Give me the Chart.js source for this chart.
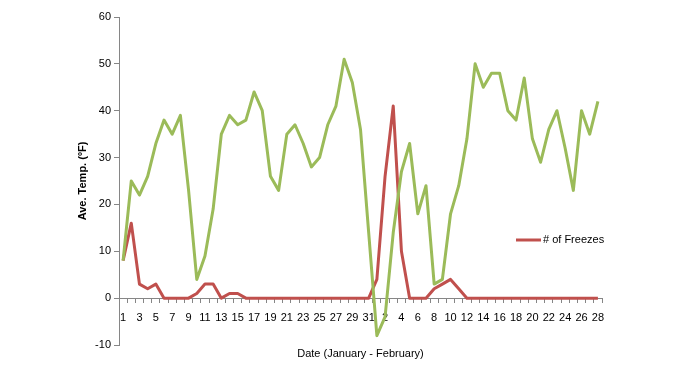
<!DOCTYPE html>
<html>
<head>
<meta charset="utf-8">
<script src="https://cdn.jsdelivr.net/npm/chart.js@4"></script>
<style>
  body { margin: 0; background: #fff; }
  #wrap { width: 674px; height: 380px; }
</style>
</head>
<body>
<div id="wrap"><canvas id="chart"></canvas></div>
<script>
// January 1-31 then February 1-28
const janDays = Array.from({length: 31}, (_, i) => String(i + 1));
const febDays = Array.from({length: 28}, (_, i) => String(i + 1));
const dayLabels = janDays.concat(febDays);

const aveTemp = [
    8, 25, 22, 26, 33, 38, 35, 39, 23, 4, 9, 19, 35, 39, 37, 38, 44, 40, 26, 23,
    35, 37, 33, 28, 30, 37, 41, 51, 46, 36, 14,
    -8, -4, 14, 27, 33, 18, 24, 3, 4, 18, 24, 34, 50, 45, 48, 48, 40, 38, 47, 34,
    29, 36, 40, 32, 23, 40, 35, 42
];

const freezes = [
    8, 16, 3, 2, 3, 0, 0, 0, 0, 1, 3, 3, 0, 1, 1, 0, 0, 0, 0, 0,
    0, 0, 0, 0, 0, 0, 0, 0, 0, 0, 0,
    4, 26, 41, 10, 0, 0, 0, 2, 3, 4, 2, 0, 0, 0, 0, 0, 0, 0, 0, 0,
    0, 0, 0, 0, 0, 0, 0, 0
];

const yTicks = [-10, 0, 10, 20, 30, 40, 50, 60];

const FONT = 'Liberation Sans';

// legend for the freezes series only, sitting inside the plot
const freezeLegend = {
    id: 'freezeLegend',
    afterDraw(chart) {
        const ctx = chart.ctx;
        const ds = chart.data.datasets[1];
        const x = 516, y = 240;
        ctx.save();
        ctx.strokeStyle = ds.borderColor;
        ctx.lineWidth = 3;
        ctx.beginPath();
        ctx.moveTo(x, y);
        ctx.lineTo(x + 25, y);
        ctx.stroke();
        ctx.fillStyle = '#000';
        ctx.font = '11px "' + FONT + '"';
        ctx.textBaseline = 'middle';
        ctx.fillText(ds.label, x + 27, y);
        ctx.restore();
    }
};

new Chart(document.getElementById('chart'), {
    type: 'line',
    data: {
        labels: dayLabels,
        datasets: [
            {
                label: 'Ave. Temp',
                data: aveTemp,
                borderColor: '#9bbb59',
                borderWidth: 3,
                pointRadius: 0,
                tension: 0,
                borderJoinStyle: 'round'
            },
            {
                label: '# of Freezes',
                data: freezes,
                borderColor: '#c0504d',
                borderWidth: 3,
                pointRadius: 0,
                tension: 0,
                borderJoinStyle: 'round'
            }
        ]
    },
    options: {
        responsive: true,
        maintainAspectRatio: false,
        animation: false,
        layout: { padding: { left: 70, right: 72, top: 17, bottom: 35 } },
        plugins: {
            legend: { display: false },
            tooltip: { enabled: false }
        },
        scales: {
            x: {
                position: { y: 0 },
                offset: true,
                grid: {
                    offset: true,
                    drawOnChartArea: false,
                    color: '#868686',
                    tickLength: 4
                },
                border: { color: '#868686', width: 1 },
                ticks: {
                    autoSkip: false,
                    maxRotation: 0,
                    padding: 9,
                    color: '#000',
                    font: { family: FONT, size: 11 },
                    callback: (v, i) => (i % 2 === 0 ? dayLabels[i] : '')
                },
                title: {
                    display: true,
                    text: 'Date (January - February)',
                    color: '#000',
                    font: { family: FONT, size: 11 },
                    padding: { top: 14, bottom: 0 }
                }
            },
            y: {
                min: -10,
                max: 60,
                afterBuildTicks: (scale) => { scale.ticks = yTicks.map(v => ({ value: v })); },
                afterFit: (scale) => { scale.width = 49; },
                grid: {
                    drawOnChartArea: false,
                    color: '#868686',
                    tickLength: 5
                },
                border: { color: '#868686', width: 1 },
                ticks: {
                    padding: 3,
                    color: '#000',
                    font: { family: FONT, size: 11 }
                },
                title: {
                    display: true,
                    text: 'Ave. Temp. (\u00baF)',
                    color: '#000',
                    font: { family: FONT, size: 11, weight: 'bold' },
                    padding: { top: 6, bottom: 0 }
                }
            }
        }
    },
    plugins: [freezeLegend]
});
</script>
</body>
</html>
